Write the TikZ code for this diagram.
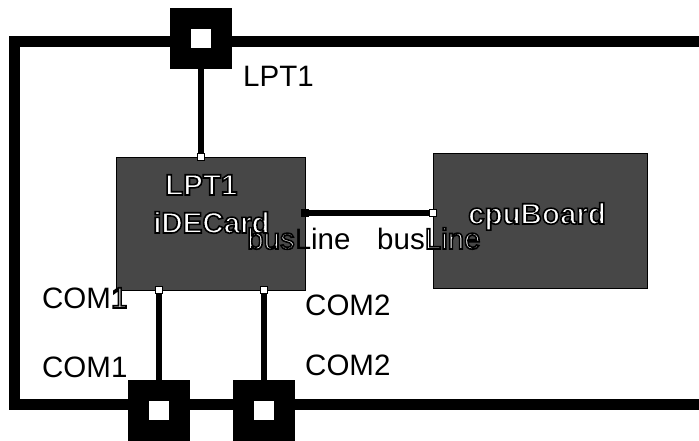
\documentclass[tikz,border=0pt]{standalone}
\usepackage{fontspec}
\setmainfont{Liberation Sans}
\definecolor{HWCard}{HTML}{474747}
% white letters with a black rim, drawn in one go
\newcommand\rimmed[1]{\special{pdf:literal direct 1 g 0 G 1.6 w 2 Tr}#1\special{pdf:literal direct 0 Tr 0 g}}
\tikzset{
  chassis/.style={draw=black,line width=11pt,inner sep=0pt},
  board/.style={draw=black,line width=0.8pt,fill=HWCard,inner sep=0pt},
  jack/.style={draw=black,fill=white,line width=21pt,minimum width=41.5pt,
               minimum height=40pt,inner sep=0pt},
  pin/.style={draw=black,fill=white,line width=1.5pt,minimum size=7pt,inner sep=0pt},
  pinfilled/.style={pin,fill=black},
  wire/.style={line width=5.5pt},
  label/.style={font=\fontsize{29.5}{34}\selectfont,inner sep=0pt,anchor=base west},
  boardlabel/.style={label,font=\fontsize{29.5}{34}\selectfont\bfseries,text=white},
}
\begin{document}
\begin{tikzpicture}[x=1pt,y=-1pt]
  \useasboundingbox (0,0) rectangle (699,440);
  % PC chassis
  \node[chassis,minimum width=689.5pt,minimum height=362.5pt] (pc) at (359.25,222.75) {};

  % boards
  \node[board,minimum width=189pt,minimum height=133pt] (ide) at (210.5,223.5) {};
  \node[board,minimum width=214pt,minimum height=135pt] (cpu) at (540,220.5) {};

  % external connectors
  \node[jack] (lptJack) at (201,38) {};
  \node[jack] (com1Jack) at (159,410) {};
  \node[jack] (com2Jack) at (264,410) {};

  % board ports
  \node[pin] (ideLpt) at (201,157) {};
  \node[pin] (ideCom1) at (159,290) {};
  \node[pin] (ideCom2) at (264,290) {};
  \node[pinfilled] (ideBus) at (305,213) {};
  \node[pin] (cpuBus) at (433,213) {};

  \draw[wire] (lptJack) -- (ideLpt);
  \draw[wire] (ideCom1) -- (com1Jack);
  \draw[wire] (ideCom2) -- (com2Jack);
  \draw[wire] (ideBus) -- (cpuBus);

  % labels
  \node[label] (lptName) at (243,86) {LPT1};
  \node[boardlabel] (ideLptName) at (165,195) {\rimmed{LPT1}};
  \node[boardlabel] (ideName) at (153,233) {\rimmed{iDECard}};
  \node[label] (ideBusName) at (247,249) {\rimmed{bus}Line};
  \node[label] (cpuBusName) at (377,249) {bus\rimmed{Line}};
  \node[boardlabel] (cpuName) at (468,224) {\rimmed{cpuBoard}};
  \node[label] (com1In) at (42,308) {COM\rimmed{1}};
  \node[label] (com1Out) at (42,377) {COM1};
  \node[label] (com2In) at (305,315) {COM2};
  \node[label] (com2Out) at (305,375) {COM2};
\end{tikzpicture}
\end{document}
